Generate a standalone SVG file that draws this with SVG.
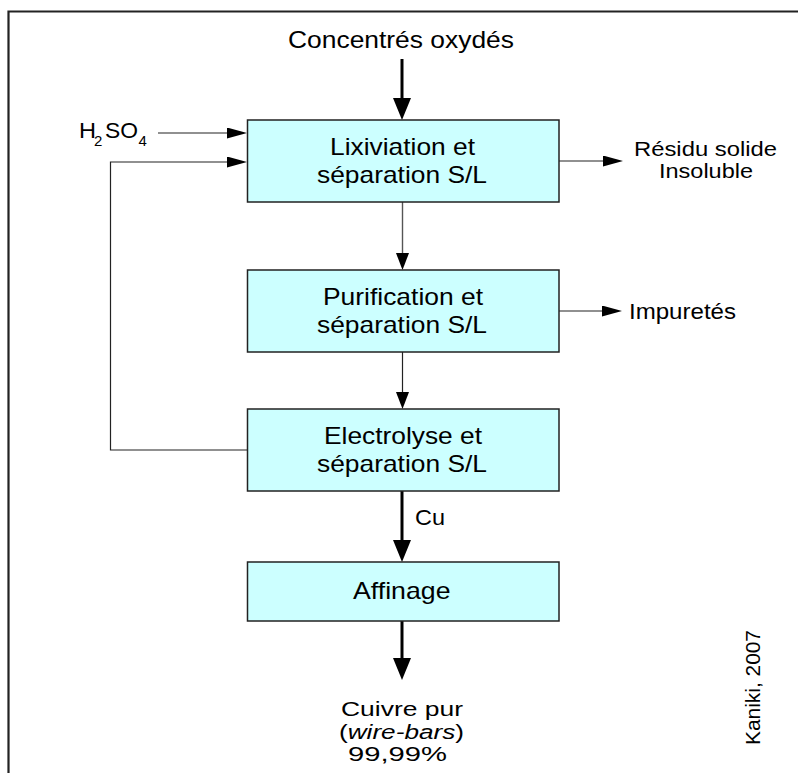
<svg xmlns="http://www.w3.org/2000/svg" width="798" height="773" viewBox="0 0 798 773">
  <style>
    text { font-family: "Liberation Sans", Arial, sans-serif; fill: #000; }
    .box { fill: #ccffff; stroke: #222; stroke-width: 1.5; }
    .lbl { font-size: 24px; }
    .side { font-size: 22px; }
    .out { font-size: 20px; }
    .thick { stroke: #000; stroke-width: 3; fill: none; }
    .thin { stroke: #222; stroke-width: 1.2; fill: none; }
    .grey { stroke: #555; stroke-width: 1.4; fill: none; }
  </style>
  <defs>
    <marker id="headBig" markerUnits="userSpaceOnUse" markerWidth="22" markerHeight="18" viewBox="0 0 22 18" refX="16" refY="9" orient="auto">
      <path d="M0,0 L22,9 L0,18 z" fill="#000"/>
    </marker>
    <marker id="headSmall" markerUnits="userSpaceOnUse" markerWidth="20" markerHeight="11" viewBox="0 0 20 11" refX="15" refY="5.5" orient="auto">
      <path d="M0,0 L20,5.5 L0,11 z" fill="#000"/>
    </marker>
    <marker id="headMid" markerUnits="userSpaceOnUse" markerWidth="17" markerHeight="13" viewBox="0 0 17 13" refX="12" refY="6.5" orient="auto">
      <path d="M0,0 L17,6.5 L0,13 z" fill="#000"/>
    </marker>
  </defs>

  <!-- frame -->
  <path d="M8.5,773 V11.5 H798" fill="none" stroke="#222" stroke-width="2.2"/>

  <!-- connectors -->
  <g id="connectors">
    <line class="thick" x1="402" y1="59" x2="402" y2="114" marker-end="url(#headBig)"/>
    <line class="thin" x1="158" y1="133" x2="242" y2="133" marker-end="url(#headSmall)"/>
    <polyline class="thin" points="247.5,450 110.5,450 110.5,162 242,162" marker-end="url(#headSmall)"/>
    <line class="thin" x1="559" y1="161" x2="618" y2="161" marker-end="url(#headSmall)"/>
    <line class="grey" x1="402.5" y1="202" x2="402.5" y2="265" marker-end="url(#headMid)"/>
    <line class="thin" x1="559" y1="311" x2="617" y2="311" marker-end="url(#headSmall)"/>
    <line class="thin" x1="402.5" y1="352" x2="402.5" y2="404" marker-end="url(#headMid)"/>
    <line class="thick" x1="402" y1="491" x2="402" y2="556" marker-end="url(#headBig)"/>
    <line class="thick" x1="402" y1="621" x2="402" y2="674" marker-end="url(#headBig)"/>
  </g>

  <!-- process steps -->
  <g id="lixiviation">
    <rect class="box" x="247.5" y="120" width="311.5" height="82"/>
    <text class="lbl" x="330" y="154.5" textLength="145" lengthAdjust="spacingAndGlyphs">Lixiviation et</text>
    <text class="lbl" x="317" y="182.5" textLength="170" lengthAdjust="spacingAndGlyphs">séparation S/L</text>
  </g>
  <g id="purification">
    <rect class="box" x="247.5" y="270" width="311.5" height="82"/>
    <text class="lbl" x="323" y="304.5" textLength="160" lengthAdjust="spacingAndGlyphs">Purification et</text>
    <text class="lbl" x="317" y="332.5" textLength="170" lengthAdjust="spacingAndGlyphs">séparation S/L</text>
  </g>
  <g id="electrolyse">
    <rect class="box" x="247.5" y="409" width="311.5" height="82"/>
    <text class="lbl" x="324" y="443.5" textLength="158" lengthAdjust="spacingAndGlyphs">Electrolyse et</text>
    <text class="lbl" x="317" y="471.5" textLength="170" lengthAdjust="spacingAndGlyphs">séparation S/L</text>
  </g>
  <g id="affinage">
    <rect class="box" x="247.5" y="562" width="311.5" height="59"/>
    <text class="lbl" x="353" y="599" textLength="97.5" lengthAdjust="spacingAndGlyphs">Affinage</text>
  </g>

  <!-- inputs and outputs -->
  <g id="concentres">
    <text class="lbl" x="288" y="48" textLength="226" lengthAdjust="spacingAndGlyphs">Concentrés oxydés</text>
  </g>
  <g id="h2so4">
    <text class="side" x="79" y="138" textLength="17" lengthAdjust="spacingAndGlyphs">H</text>
    <text x="94" y="145.5" font-size="15">2</text>
    <text class="side" x="105" y="138" textLength="33" lengthAdjust="spacingAndGlyphs">SO</text>
    <text x="138.5" y="145.5" font-size="15">4</text>
  </g>
  <g id="residu">
    <text class="out" x="634" y="156" textLength="143" lengthAdjust="spacingAndGlyphs">Résidu solide</text>
    <text class="out" x="659" y="178" textLength="94" lengthAdjust="spacingAndGlyphs">Insoluble</text>
  </g>
  <g id="impuretes">
    <text class="side" x="629" y="319" textLength="107" lengthAdjust="spacingAndGlyphs">Impuretés</text>
  </g>
  <g id="cu">
    <text class="side" x="415" y="525" textLength="30" lengthAdjust="spacingAndGlyphs">Cu</text>
  </g>
  <g id="cuivre">
    <text class="out" x="341" y="716" textLength="122" lengthAdjust="spacingAndGlyphs">Cuivre pur</text>
    <text class="out" x="339" y="738.5" textLength="125" lengthAdjust="spacingAndGlyphs">(<tspan font-style="italic">wire-bars</tspan>)</text>
    <text class="out" x="348" y="761" textLength="99" lengthAdjust="spacingAndGlyphs">99,99%</text>
  </g>
  <g id="source">
    <text font-size="21" transform="translate(760,745) rotate(-90)" textLength="115" lengthAdjust="spacingAndGlyphs">Kaniki, 2007</text>
  </g>
</svg>
